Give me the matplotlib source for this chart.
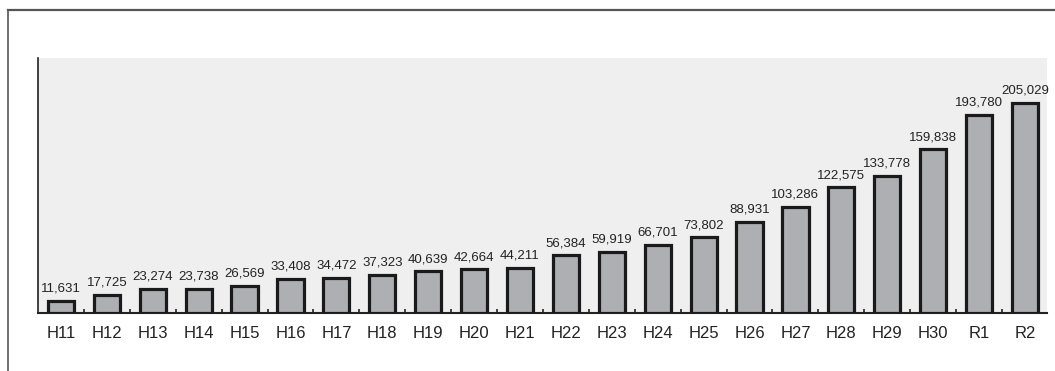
import matplotlib
matplotlib.use("Agg")
import matplotlib.pyplot as plt
from matplotlib.lines import Line2D
import numpy as np

years = ["H11", "H12", "H13", "H14", "H15", "H16", "H17", "H18", "H19", "H20", "H21",
         "H22", "H23", "H24", "H25", "H26", "H27", "H28", "H29", "H30", "R1", "R2"]
values = [11631, 17725, 23274, 23738, 26569, 33408, 34472, 37323, 40639, 42664, 44211,
          56384, 59919, 66701, 73802, 88931, 103286, 122575, 133778, 159838, 193780, 205029]

narrow = ["Liberation Sans Narrow", "Liberation Sans", "DejaVu Sans"]
regular = ["Liberation Sans", "DejaVu Sans"]

fig = plt.figure(figsize=(10.55, 3.71), dpi=100)
W, H = 1055, 371

# outer frame (top and left edges)
fig.add_artist(Line2D([8 / W, 1.0], [1 - 9.5 / H, 1 - 9.5 / H], transform=fig.transFigure,
                      color="#555555", linewidth=1.6))
fig.add_artist(Line2D([7.5 / W, 7.5 / W], [1 - 9.5 / H, 0.0], transform=fig.transFigure,
                      color="#555555", linewidth=1.2))

ax = fig.add_axes([38 / W, 1 - 313 / H, (1047 - 38) / W, (313 - 58) / H])
ax.set_facecolor("#efefef")

x = np.arange(len(years))
ax.bar(x, values, width=0.57, color="#aeafb2", edgecolor="#1a1a1a", linewidth=2.3, zorder=3)

for xi, v in zip(x, values):
    ax.annotate(f"{v:,}", (xi, v), xytext=(0, 4.5), textcoords="offset points",
                ha="center", va="bottom", fontsize=9.5, family=narrow, color="#222222")

ax.set_xlim(-0.5, len(years) - 0.52)
ax.set_ylim(0, 249000)

ax.set_xticks(x)
ax.set_xticklabels(years, family=regular, fontsize=12, color="#222222")
ax.tick_params(axis="x", which="major", length=0, pad=9)
ax.set_xticks(x[:-1] + 0.5, minor=True)
ax.tick_params(axis="x", which="minor", direction="in", length=3, width=1.2, color="#222222")
ax.set_yticks([])

for side in ("top", "right"):
    ax.spines[side].set_visible(False)
ax.spines["left"].set_linewidth(1.2)
ax.spines["left"].set_color("#222222")
ax.spines["bottom"].set_linewidth(1.5)
ax.spines["bottom"].set_color("#222222")

fig.savefig("out.png", dpi=100)
